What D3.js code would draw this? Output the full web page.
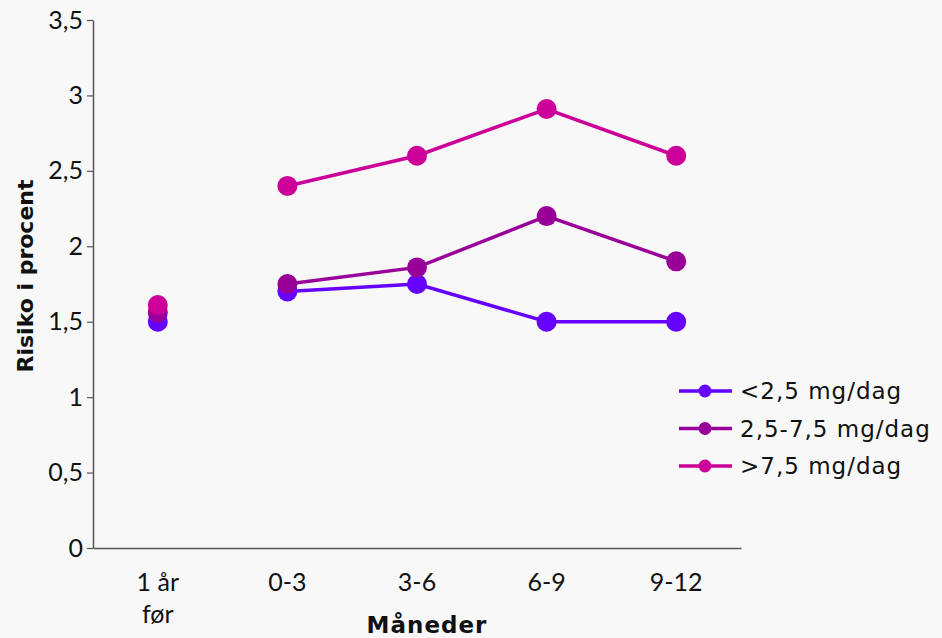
<!DOCTYPE html>
<html><head><meta charset="utf-8">
<script src="https://cdn.jsdelivr.net/npm/d3@7"></script>
<style>
html,body{margin:0;padding:0;background:#f8f8f8;}
text{font-family:"Lato","Noto Sans",sans-serif;fill:#111;}
</style></head>
<body>
<svg id="c" width="942" height="638"></svg>
<script>
const categories = ["1 år\nfør", "0-3", "3-6", "6-9", "9-12"];
const seriesNames = ["<2,5 mg/dag", "2,5-7,5 mg/dag", ">7,5 mg/dag"];
const seriesColors = ["#6600ff", "#990099", "#cc0099"];
const lowDose = [1.50, 1.70, 1.75, 1.50, 1.50];
const midDose = [1.56, 1.75, 1.86, 2.20, 1.90];
const highDose = [1.61, 2.40, 2.60, 2.91, 2.60];
const yTicks = [0, 0.5, 1, 1.5, 2, 2.5, 3, 3.5];
const seriesValues = [lowDose, midDose, highDose];

const svg = d3.select("#c");
const m = {l: 93, r: 201, t: 20, b: 90};
const W = 942, H = 638;
const x = d3.scaleBand().domain(categories).range([m.l, W - m.r]);
const y = d3.scaleLinear().domain([0, 3.5]).range([H - m.b, m.t]);
const fmt = d => String(d).replace(".", ",");

// y axis
const ya = svg.append("g").attr("transform", `translate(${m.l},0)`)
  .call(d3.axisLeft(y).tickValues(yTicks).tickFormat(fmt).tickSize(6).tickSizeOuter(0));
ya.select(".domain").attr("stroke", "#555").attr("stroke-width", 1.5);
ya.selectAll(".tick line").attr("stroke", "#555").attr("stroke-width", 1.2);
ya.selectAll(".tick text").attr("font-size", 25).attr("x", -10)
  .style("font-family", "Lato, 'Noto Sans', sans-serif").attr("fill", "#111");

// x axis
const xa = svg.append("g").attr("transform", `translate(0,${H - m.b})`)
  .call(d3.axisBottom(x).tickSize(0).tickSizeOuter(0).tickFormat(""));
xa.select(".domain").attr("stroke", "#555").attr("stroke-width", 1.5);
xa.selectAll(".tick").each(function(d) {
  const t = d3.select(this).append("text").attr("text-anchor", "middle")
    .attr("font-size", 25).attr("fill", "#111");
  d.split("\n").forEach((s, i) => {
    t.append("tspan").attr("x", 0).attr("y", 43 + i * 32).text(s);
  });
});

// axis titles
svg.append("text").attr("x", 427).attr("y", 633).attr("text-anchor", "middle")
  .style("font-family", "'DejaVu Sans', sans-serif").attr("letter-spacing", 1)
  .attr("font-size", 23).attr("font-weight", "bold").text("Måneder");
svg.append("text").attr("transform", "translate(33,276) rotate(-90)")
  .style("font-family", "'DejaVu Sans', sans-serif")
  .attr("text-anchor", "middle").attr("font-size", 22).attr("font-weight", "bold")
  .text("Risiko i procent");

const cx = c => x(c) + x.bandwidth() / 2;

seriesValues.forEach((vals, si) => {
  const col = seriesColors[si];
  const pts = categories.map((c, i) => ({c, v: vals[i], i}));
  const line = d3.line().defined(d => d.i > 0).x(d => cx(d.c)).y(d => y(d.v));
  svg.append("path").datum(pts).attr("d", line).attr("fill", "none")
    .attr("stroke", col).attr("stroke-width", 3.5);
  svg.selectAll(null).data(pts).enter().append("circle")
    .attr("cx", d => cx(d.c)).attr("cy", d => y(d.v)).attr("r", 10).attr("fill", col);
});

// legend
const lg = svg.append("g");
seriesNames.forEach((n, i) => {
  const yy = 391 + i * 37.5;
  lg.append("line").attr("x1", 679).attr("x2", 732).attr("y1", yy).attr("y2", yy)
    .attr("stroke", seriesColors[i]).attr("stroke-width", 3.5);
  lg.append("circle").attr("cx", 705).attr("cy", yy).attr("r", 6.5).attr("fill", seriesColors[i]);
  lg.append("text").attr("x", 740).attr("y", yy + 8).attr("font-size", 23)
    .style("font-family", "'DejaVu Sans', sans-serif").attr("letter-spacing", 1).text(n);
});
</script>
</body></html>
